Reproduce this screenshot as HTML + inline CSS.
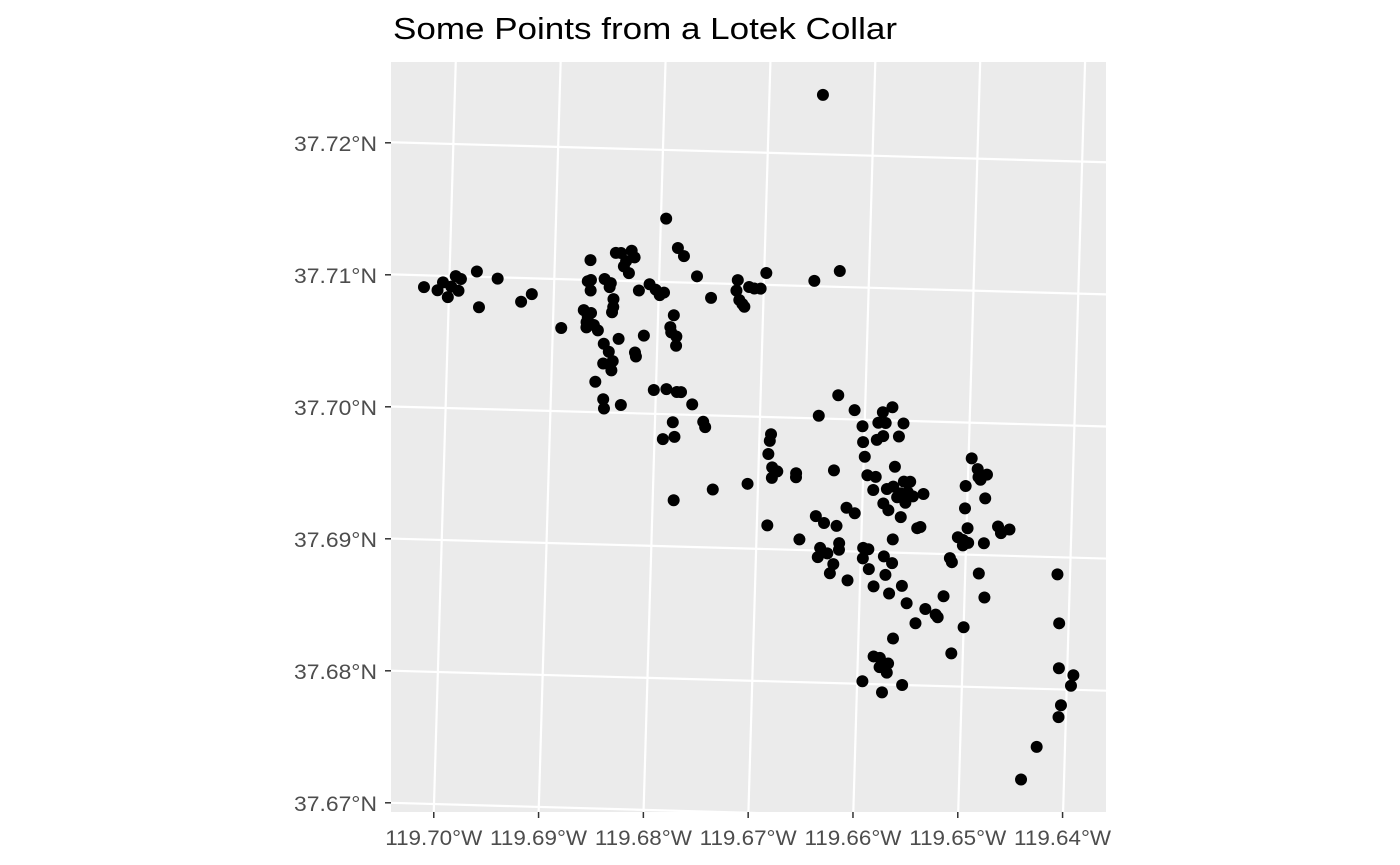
<!DOCTYPE html>
<html><head><meta charset="utf-8"><style>
html,body{margin:0;padding:0;background:#fff;overflow:hidden;width:1400px;height:865px;}
svg{display:block;font-family:"Liberation Sans",Arial,sans-serif;}
</style></head><body>
<svg id="chart" width="1400" height="865" viewBox="0 0 1400 865">
<defs><clipPath id="pc"><rect x="391" y="62" width="715" height="750"/></clipPath></defs>
<text x="393" y="39" font-size="31" textLength="504" lengthAdjust="spacingAndGlyphs" fill="#000">Some Points from a Lotek Collar</text>
<rect x="391" y="62" width="715" height="750" fill="#ebebeb"/>
<g id="grid" clip-path="url(#pc)"></g>
<g id="pts" clip-path="url(#pc)"></g>
<g id="axes"></g>
</svg>
<script>
const lonTicks = [-119.70,-119.69,-119.68,-119.67,-119.66,-119.65,-119.64];
const lonLabels = ["119.70°W","119.69°W","119.68°W","119.67°W","119.66°W","119.65°W","119.64°W"];
const latTicks = [37.67,37.68,37.69,37.70,37.71,37.72];
const latLabels = ["37.67°N","37.68°N","37.69°N","37.70°N","37.71°N","37.72°N"];
// offsets in 1e-4 degrees from -119.70 / 37.67
const lonOff = [-24,-11,-6,-1,6,11,9,2,26,46,29,69,79,108,134,132,135,135,148,154,153,158,163,173,176,168,166,171,157,157,156,129,133,136,132,139,143,132,149,163,154,149,158,157,142,150,151,167,179,180,187,181,191,197,201,205,205,217,223,236,250,215,212,213,218,218,198,210,220,224,235,246,248,217,219,208,220,257,275,274,277,282,286,280,291,297,302,348,372,351,374,356,390,417,426,413,420,437,398,399,412,418,433,401,311,310,309,313,318,313,336,336,372,290,430,404,412,410,423,429,439,445,436,443,448,458,420,425,441,433,437,430,456,453,385,393,356,364,376,310,341,361,359,368,374,371,388,379,379,402,407,402,408,422,430,424,413,428,440,445,463,473,475,454,480,500,503,509,510,518,512,498,517,498,501,492,497,497,502,517,485,487,530,533,541,513,519,588,591,433,415,421,429,421,428,405,424,443,489,592,606,604,595,593,573,559];
const latOff = [391,389,395,384,400,398,389,392,404,399,377,382,388,363,415,399,400,392,401,398,395,421,421,423,418,415,411,406,386,380,376,377,372,375,368,366,362,364,352,356,346,337,339,332,323,310,303,306,346,343,359,393,398,394,390,392,448,426,420,405,389,375,366,362,359,352,318,319,317,317,308,295,291,294,283,281,235,244,403,395,388,383,398,385,397,397,409,404,412,545,318,302,307,306,310,298,298,298,295,283,285,288,288,272,287,282,272,262,259,254,258,255,261,249,265,258,257,247,248,250,254,254,245,246,243,245,237,232,238,242,227,210,220,219,233,229,226,221,219,218,208,202,195,198,190,183,178,206,201,203,202,195,187,197,192,183,174,169,175,162,158,154,152,147,168,145,273,265,259,261,257,252,243,235,220,213,211,207,209,209,197,194,222,217,220,186,168,187,150,135,121,120,116,113,109,102,94,100,125,116,111,103,88,79,56,31];
const lons = lonOff.map(v => -119.70 + v/10000);
const lats = latOff.map(v => 37.67 + v/10000);

function px(lon, lat){ return 434 + (lon+119.70)*10480 + (lat-37.67)*387; }
function py(lon, lat){ return 804 - (lat-37.67)*13200 + (lon+119.70)*293; }

const NS = "http://www.w3.org/2000/svg";
function mk(tag, attrs, parent){ const e=document.createElementNS(NS,tag); for(const k in attrs) e.setAttribute(k,attrs[k]); parent.appendChild(e); return e; }
const grid=document.getElementById('grid'), pts=document.getElementById('pts'), axes=document.getElementById('axes');

lonTicks.forEach((lon,i)=>{
  const l=mk('line',{x1:px(lon,37.66),y1:py(lon,37.66),x2:px(lon,37.73),y2:py(lon,37.73),stroke:'#fff','stroke-width':2.2},grid);
  
  
  const x=px(lon,37.6694);
  const t=mk('line',{x1:x,y1:812,x2:x,y2:818,stroke:'#333','stroke-width':1.5},axes);
  
  
  const tx=mk('text',{x:x,y:845,'font-size':21,fill:'#4d4d4d','text-anchor':'middle',textLength:97,lengthAdjust:'spacingAndGlyphs'},axes);
  tx.textContent=lonLabels[i];
  
  
});
latTicks.forEach((lat,i)=>{
  const l=mk('line',{x1:px(-119.71,lat),y1:py(-119.71,lat),x2:px(-119.63,lat),y2:py(-119.63,lat),stroke:'#fff','stroke-width':2.2},grid);
  
  
  const y=py(-119.7041,lat);
  const t=mk('line',{x1:385,y1:y,x2:391,y2:y,stroke:'#333','stroke-width':1.5},axes);
  
  
  const tx=mk('text',{x:377,y:y+8,'font-size':21,fill:'#4d4d4d','text-anchor':'end',textLength:83,lengthAdjust:'spacingAndGlyphs'},axes);
  tx.textContent=latLabels[i];
  
  
});
for(let i=0;i<lons.length;i++){
  const c=mk('circle',{cx:px(lons[i],lats[i]),cy:py(lons[i],lats[i]),r:6,fill:'#000'},pts);
  
  
}
</script>
</body></html>
